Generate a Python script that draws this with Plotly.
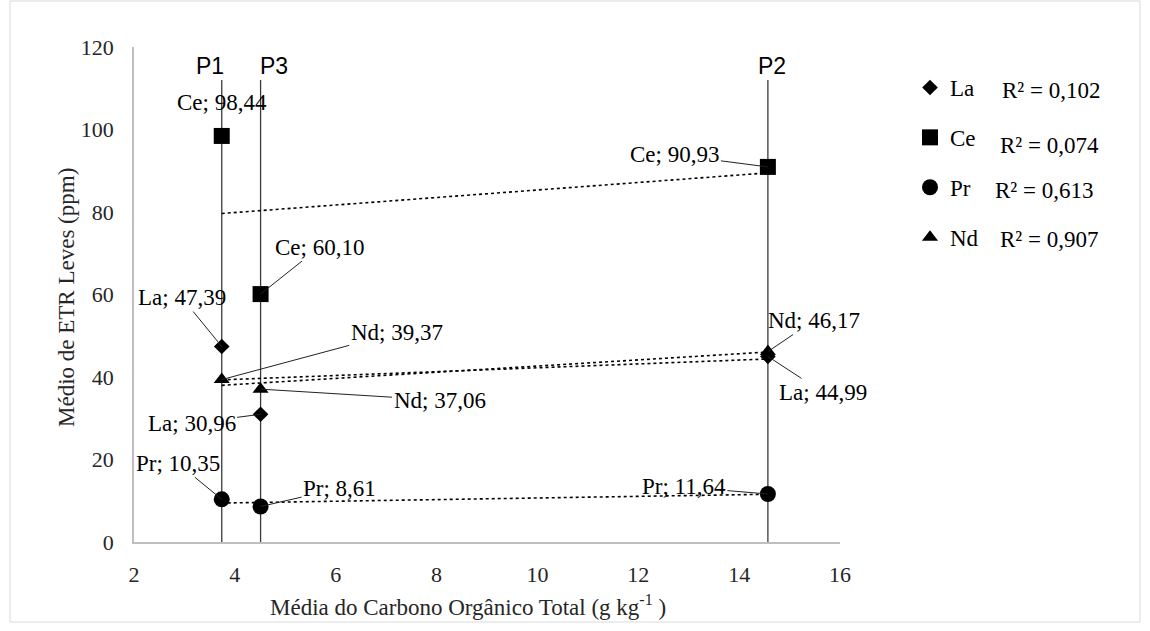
import numpy as np
import plotly.graph_objects as go

# Sampling sites and their mean total organic carbon (g/kg)
sites = ["P1", "P3", "P2"]
cot = [3.74, 4.51, 14.57]

# Mean light REE contents (ppm) at each site, same order as `sites`
elements = ["La", "Ce", "Pr", "Nd"]
la = [47.39, 30.96, 44.99]
ce = [98.44, 60.10, 90.93]
pr = [10.35, 8.61, 11.64]
nd = [39.37, 37.06, 46.17]
r2_labels = ["R² = 0,102", "R² = 0,074", "R² = 0,613", "R² = 0,907"]

x_ticks = [2, 4, 6, 8, 10, 12, 14, 16]
y_ticks = [0, 20, 40, 60, 80, 100, 120]

series = dict(zip(elements, [la, ce, pr, nd]))

# ---- styling -------------------------------------------------------------
SERIF = "Liberation Serif"
SANS = "Liberation Sans"
symbols = {"La": "diamond", "Ce": "square", "Pr": "circle", "Nd": "triangle-up"}
sizes = {"La": 12, "Ce": 16, "Pr": 16, "Nd": 14}

# label offsets in pixels (text centre relative to the point); None = no leader
label_offsets = {
    "La": [(-40, -49), (-69, 9), (55, 36)],
    "Ce": [None, (59, -47), (-93, -12)],
    "Pr": [(-44, -36), (79, -18), (-84, -7)],
    "Nd": [(175, -47), (179, 11), (46, -31)],
}
site_label_shift = {"P1": -12, "P3": 13, "P2": 4}
site_line_top = 112

# plot-area geometry used for paper-coordinate placement of free text
L, R, T, B = 134, 310, 47, 89
W, H = 1150, 631
PW, PH = W - L - R, H - T - B


def px(xp):
    return (xp - L) / PW


def py(yp):
    return (H - B - yp) / PH


fig = go.Figure()

# linear trend lines
for el in elements:
    vals = series[el]
    k, b = np.polyfit(cot, vals, 1)
    xs = np.array([min(cot), max(cot)])
    fig.add_trace(go.Scatter(
        x=xs, y=k * xs + b, mode="lines",
        line=dict(color="black", width=1.6, dash="dot"),
        showlegend=False, hoverinfo="skip"))

# markers
for el in elements:
    fig.add_trace(go.Scatter(
        x=cot, y=series[el], mode="markers", name=el, legendgroup=el,
        marker=dict(symbol=symbols[el], size=sizes[el], color="black",
                    line=dict(width=0))))

# vertical site lines
shapes = []
for s, c in zip(sites, cot):
    shapes.append(dict(type="line", xref="x", yref="y", x0=c, x1=c, y0=0,
                       y1=site_line_top, line=dict(color="#3a3a3a", width=1.3),
                       layer="below"))

# outer frame
shapes.append(dict(type="rect", xref="paper", yref="paper",
                   x0=px(10), x1=px(1140), y0=py(622), y1=py(1),
                   line=dict(color="#d9d9d9", width=1), layer="below"))

annotations = []

# point value labels
for el in elements:
    for i, (c, v) in enumerate(zip(cot, series[el])):
        txt = f"{el}; {v:.2f}".replace(".", ",")
        off = label_offsets[el][i]
        if off is None:
            annotations.append(dict(x=c, y=v, xref="x", yref="y", text=txt,
                                    showarrow=False, yshift=33,
                                    font=dict(family=SERIF, size=23, color="black")))
        else:
            annotations.append(dict(x=c, y=v, xref="x", yref="y", text=txt,
                                    showarrow=True, arrowhead=0, arrowwidth=1,
                                    arrowcolor="#222", ax=off[0], ay=off[1],
                                    font=dict(family=SERIF, size=23, color="black")))

# site names above the lines
for s, c in zip(sites, cot):
    annotations.append(dict(x=c, y=py(66), xref="x", yref="paper", text=s,
                            showarrow=False, xshift=site_label_shift[s],
                            yanchor="middle",
                            font=dict(family=SANS, size=23, color="black")))

# R² values next to the legend entries
r2_pos = [(1000, 90), (998, 146), (993, 190), (998, 239)]
for t, (xp, yp) in zip(r2_labels, r2_pos):
    annotations.append(dict(x=px(xp), y=py(yp), xref="paper", yref="paper",
                            text=t, showarrow=False, xanchor="left",
                            yanchor="middle",
                            font=dict(family=SERIF, size=23, color="black")))

# axis titles
annotations.append(dict(x=px(468), y=py(605), xref="paper", yref="paper",
                        text="Média do Carbono Orgânico Total (g kg<sup>-1</sup> )",
                        showarrow=False, xanchor="center", yanchor="middle",
                        font=dict(family=SERIF, size=23, color="#262626")))
annotations.append(dict(x=px(66), y=py(298), xref="paper", yref="paper",
                        text="Médio de ETR Leves (ppm)", textangle=-90,
                        showarrow=False, xanchor="center", yanchor="middle",
                        font=dict(family=SERIF, size=23, color="#262626")))

fig.update_layout(
    width=W, height=H,
    margin=dict(l=L, r=R, t=T, b=B),
    paper_bgcolor="white", plot_bgcolor="white",
    shapes=shapes, annotations=annotations,
    legend=dict(x=px(910), y=py(66), xanchor="left", yanchor="top",
                traceorder="grouped", tracegroupgap=17,
                font=dict(family=SERIF, size=23, color="black"),
                bgcolor="rgba(0,0,0,0)"),
    xaxis=dict(range=[2, 16], tickvals=x_ticks, ticktext=[str(t) for t in x_ticks],
               showgrid=False, zeroline=False, showline=True,
               linecolor="#bfbfbf", linewidth=1.5, ticks="",
               ticklabelstandoff=12,
               tickfont=dict(family=SERIF, size=22, color="#262626")),
    yaxis=dict(range=[0, 120], tickvals=y_ticks, ticktext=[str(t) for t in y_ticks],
               showgrid=False, zeroline=False, showline=True,
               linecolor="#bfbfbf", linewidth=1.5, ticks="",
               ticklabelstandoff=14,
               tickfont=dict(family=SERIF, size=22, color="#262626")),
)

fig.write_html("out.html")
